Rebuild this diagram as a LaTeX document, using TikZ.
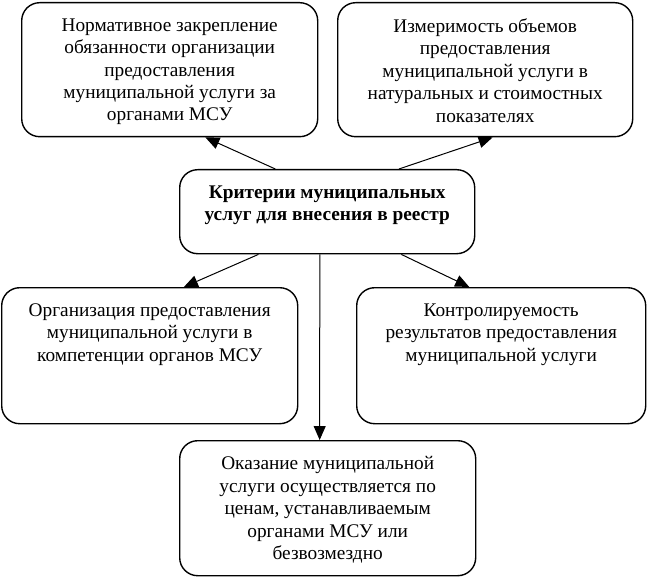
\documentclass[tikz,border=0pt]{standalone}
\usepackage{fontspec}
\setmainfont{Liberation Serif}
\usepackage{xcolor}
\usetikzlibrary{arrows.meta,calc}

\newcommand{\cellbox}[3]{\parbox[t][#2][t]{#1}{\centering\fontsize{19.3pt}{22.4pt}\selectfont\vspace*{16pt}#3}}

\begin{document}
\begin{tikzpicture}[x=1pt, y=-1pt,
    crit/.style={draw, rounded corners=18pt, line width=1.4pt, inner sep=0pt, anchor=north west},
    arr/.style={-{Triangle[length=14pt,width=12pt]}, line width=1pt}]
        \useasboundingbox (0,0) rectangle (647,577);

        \node[crit] (norm) at (21,2) {\cellbox{296pt}{134pt}{Нормативное закрепление\\ обязанности организации\\ предоставления\\ муниципальной услуги за\\ органами МСУ}};
        \node[crit] (izm) at (337,2) {\cellbox{295pt}{134pt}{Измеримость объемов\\ предоставления\\ муниципальной услуги в\\ натуральных и стоимостных\\ показателях}};
        \node[crit] (kriter) at (179,169) {\cellbox{295pt}{84pt}{\bfseries Критерии муниципальных\\ услуг для внесения в реестр}};
        \node[crit] (org) at (1,287) {\cellbox{296pt}{136pt}{Организация предоставления\\ муниципальной услуги в\\ компетенции органов МСУ}};
        \node[crit] (kontr) at (356,287) {\cellbox{289pt}{136pt}{Контролируемость\\ результатов предоставления\\ муниципальной услуги}};
        \node[crit] (okaz) at (179,440) {\cellbox{296pt}{135pt}{Оказание муниципальной\\ услуги осуществляется по\\ ценам, устанавливаемым\\ органами МСУ или\\ безвозмездно}};

        \draw[arr] ($(kriter.north west)!0.325!(kriter.north east)$) -- ($(norm.south west)!0.62!(norm.south east)$);
        \draw[arr] ($(kriter.north west)!0.742!(kriter.north east)$) -- ($(izm.south west)!0.525!(izm.south east)$);
        \draw[arr] ($(kriter.south west)!0.268!(kriter.south east)$) -- ($(org.north west)!0.615!(org.north east)$);
        \draw[arr] ($(kriter.south west)!0.75!(kriter.south east)$) -- ($(kontr.north west)!0.39!(kontr.north east)$);
        \draw[arr] ($(kriter.south west)!0.475!(kriter.south east)$) -- ($(okaz.north west)!0.473!(okaz.north east)$);
    \end{tikzpicture}
\end{document}
